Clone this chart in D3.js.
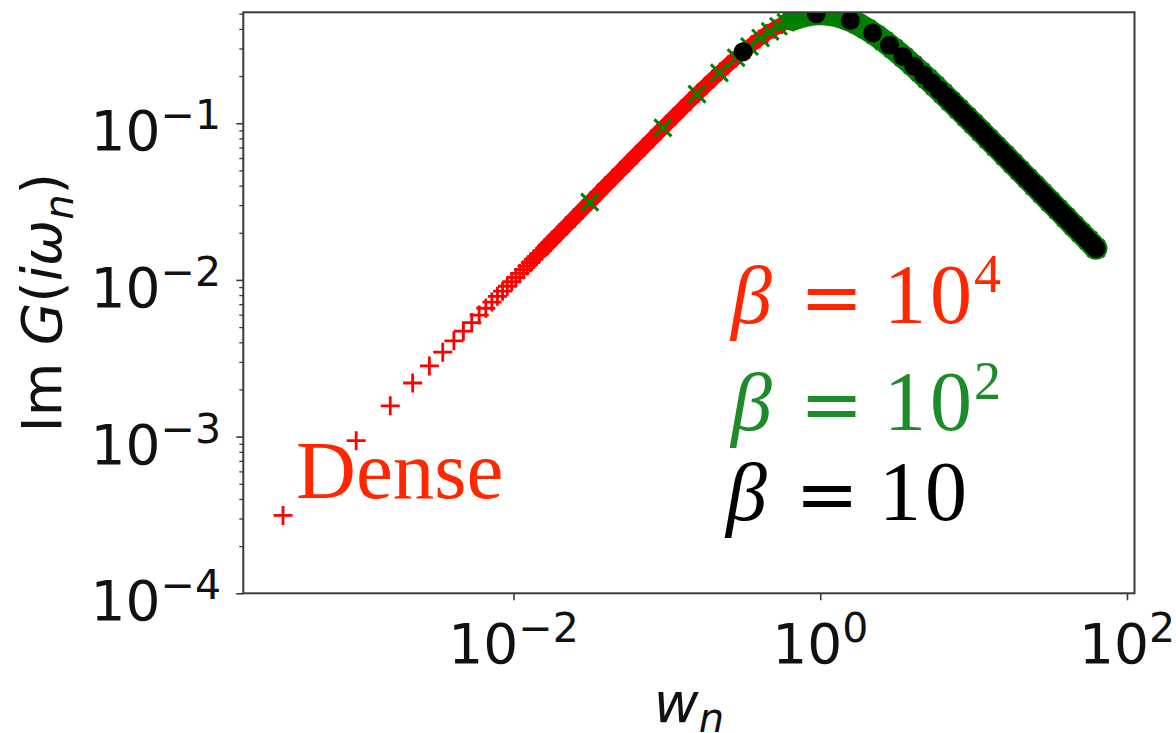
<!DOCTYPE html>
<html><head><meta charset="utf-8">
<script src="https://cdn.jsdelivr.net/npm/d3@7"></script>
<style>body{margin:0;background:#fff} svg{display:block}</style>
</head><body>
<svg id="c" width="1176" height="733"></svg>
<script>
// ---------------- data ----------------
// beta = 1e4 (red "+")
const redW = [0.000314,0.000942,0.001571,0.002199,0.002827,0.003456,0.004084,0.004712,0.005341,0.005969,
  0.006597,0.007226,0.007854,0.008482,0.009111,0.009739,0.010367,0.010996,0.011624,0.012252,0.012881,
  0.013509,0.014137,0.014765,0.015394,
  0.0167,0.018,0.020,0.022,0.025,0.028,0.032,0.036,0.040,0.045,0.050,0.056,0.063,0.071,0.080,0.090,
  0.100,0.112,0.125,0.140,0.160,0.180,0.200,0.224,0.250,0.280,0.316,0.355,0.400,0.450,0.500,0.560,
  0.630,0.710,0.800,0.900,1.000];
const redG = [0.000314,0.000942,0.001571,0.002199,0.002827,0.003456,0.004084,0.004712,0.005341,0.005969,
  0.006597,0.007226,0.007854,0.008482,0.009111,0.009738,0.010366,0.010995,0.011622,0.012250,0.012879,
  0.013507,0.014134,0.014762,0.015390,
  0.0167,0.0180,0.01999,0.02199,0.02498,0.02798,0.03197,0.03595,0.03994,0.04491,0.04988,0.05582,0.06275,
  0.07064,0.07949,0.08928,0.0990,0.1106,0.1231,0.1373,0.1560,0.1744,0.1923,0.2133,0.2353,0.2596,0.2873,
  0.3153,0.3448,0.3742,0.4000,0.4263,0.4510,0.4720,0.4878,0.4972,0.5000];
// beta = 1e2 (green "x")
const greenW = [0.0314,0.0942,0.1571,0.2199,0.2827,0.3456,0.4084,0.4712,0.5341,0.5969,0.6597,0.7226,
  0.7854,0.8482,0.9111,0.9739,1.0367,1.0996,1.1624,1.2252,1.2881,1.3509,1.4137,1.4765,1.5394,1.6022,
  1.75,2.0,2.3,2.6,3.0,3.5,4.0,4.5,5.0,5.6,6.3,7.1,8.0,9.0,10,11.2,12.5,14,16,18,20,22.4,25,28,31.6,
  35.5,40,45,50,56,62.8];
const greenG = [0.03137,0.09337,0.15332,0.20976,0.26178,0.30873,0.35002,0.38559,0.41556,0.44010,0.45966,
  0.47472,0.48576,0.49330,0.49784,0.49983,0.49968,0.49775,0.49439,0.48986,0.48439,0.47821,0.47146,0.46430,
  0.45683,0.44917,
  0.4308,0.4000,0.3657,0.3351,0.3000,0.2642,0.2353,0.2118,0.1923,0.1731,0.1548,0.1381,0.1231,0.1098,
  0.0990,0.0886,0.0795,0.0711,0.0623,0.0554,0.0499,0.04455,0.03994,0.03567,0.03161,0.02815,0.0250,
  0.0222,0.0200,0.0179,0.0159];
// beta = 10 (black dots)
const blackW = [0.3142,0.9425,1.5708,2.1991,2.8274,3.4558,4.0841,4.7124,5.3407,5.9690,6.5973,7.2257,
  7.8540,8.4823,9.1106,9.7389,10.367,10.996,11.624,12.252,
  13.5,15,16.5,18,20,22,24,26.5,29,32,35,38.5,42,46,50,55,60,62.8];
const blackG = [0.2858,0.4991,0.4530,0.3768,0.3144,0.2670,0.2310,0.2031,0.1809,0.1630,0.1482,0.1358,
  0.1253,0.1163,0.1085,0.1016,0.0955,0.0902,0.0854,0.0811,
  0.0737,0.0664,0.0604,0.0554,0.0499,0.0454,0.0416,0.0377,0.0344,0.0312,0.0285,0.0260,0.0238,0.0217,
  0.0200,0.0182,0.0167,0.0159];

const xTickVals = [1e-2, 1e0, 1e2];
const xTickExps = ["\u22122", "0", "2"];
const yTickVals = [1e-4, 1e-3, 1e-2, 1e-1];
const yTickExps = ["\u22124", "\u22123", "\u22122", "\u22121"];
const betaExps = ["4", "2", ""];
const denseLabel = "Dense";

// ---------------- layout ----------------
const svg = d3.select("#c");
const L = 243.3, R = 1134.5, T = 12.3, B = 593.3;
const x = d3.scaleLog().domain([Math.pow(10,-3.762), Math.pow(10,2.049)]).range([L, R]);
const y = d3.scaleLog().domain([1e-4, 0.5105]).range([B, T]);
const axisColor = "#3a3a3a";
const tickFont = "DejaVu Sans";

svg.append("defs").append("clipPath").attr("id","clip")
  .append("rect").attr("x",L).attr("y",T).attr("width",R-L).attr("height",B-T);

const plot = svg.append("g").attr("clip-path","url(#clip)");

function pts(W,G){ return W.map((w,i)=>({w, g:G[i]})); }
const red = pts(redW, redG), green = pts(greenW, greenG), black = pts(blackW, blackG);
const line = d3.line().x(d=>x(d.w)).y(d=>y(d.g));

// red
plot.append("path").datum(red.filter(d=>d.w>=0.0153))
  .attr("d", line).attr("fill","none").attr("stroke","#ff0000")
  .attr("stroke-width",14.5).attr("stroke-linejoin","round").attr("stroke-linecap","round");
plot.append("g").selectAll("path").data(red).join("path")
  .attr("transform", d=>`translate(${x(d.w)},${y(d.g)})`)
  .attr("d","M-9.5,0H9.5M0,-9.5V9.5").attr("stroke","#ff0000").attr("stroke-width",2.8).attr("fill","none");

// green
plot.append("path").datum(green.filter(d=>d.w>=0.65))
  .attr("d", line).attr("fill","none").attr("stroke","#008000")
  .attr("stroke-width",23).attr("stroke-linejoin","round").attr("stroke-linecap","round");
plot.append("g").selectAll("path").data(green).join("path")
  .attr("transform", d=>`translate(${x(d.w)},${y(d.g)})`)
  .attr("d","M-8.5,-8.5L8.5,8.5M-8.5,8.5L8.5,-8.5").attr("stroke","#008000").attr("stroke-width",3).attr("fill","none");

// black
plot.append("path").datum(black.filter(d=>d.w>=6.5))
  .attr("d", line).attr("fill","none").attr("stroke","#000")
  .attr("stroke-width",19).attr("stroke-linejoin","round").attr("stroke-linecap","round");
plot.append("g").selectAll("circle").data(black).join("circle")
  .attr("cx", d=>x(d.w)).attr("cy", d=>y(d.g)).attr("r",9.5).attr("fill","#000");

// axes
const xAxis = d3.axisBottom(x).tickValues(xTickVals).tickSize(7).tickSizeOuter(0).tickFormat(()=> "");
const gx = svg.append("g").attr("transform",`translate(0,${B})`).call(xAxis);
gx.select(".domain").remove();
gx.selectAll(".tick line").attr("stroke",axisColor).attr("stroke-width",1.6);

const yMinor = y.ticks().filter(v => Math.abs(Math.log10(v) - Math.round(Math.log10(v))) > 1e-6);
const gyMinor = svg.append("g").attr("transform",`translate(${L},0)`)
  .call(d3.axisLeft(y).tickValues(yMinor).tickSize(4).tickSizeOuter(0).tickFormat(()=>""));
gyMinor.select(".domain").remove();
gyMinor.selectAll(".tick line").attr("stroke",axisColor).attr("stroke-width",1.3);
const gy = svg.append("g").attr("transform",`translate(${L},0)`)
  .call(d3.axisLeft(y).tickValues(yTickVals).tickSize(7).tickSizeOuter(0).tickFormat(()=>""));
gy.select(".domain").remove();
gy.selectAll(".tick line").attr("stroke",axisColor).attr("stroke-width",1.6);

// spines
svg.append("rect").attr("x",L).attr("y",T).attr("width",R-L).attr("height",B-T)
  .attr("fill","none").attr("stroke",axisColor).attr("stroke-width",2);

// tick labels
xTickVals.forEach((v,i)=>{
  const t = svg.append("text").attr("x", x(v)).attr("y", 663).attr("text-anchor","middle")
    .attr("font-family", tickFont).attr("font-size",55).attr("fill","#111");
  t.append("tspan").text("10");
  t.append("tspan").attr("font-size",41).attr("dy",-21).text(xTickExps[i]);
});
yTickVals.forEach((v,i)=>{
  const t = svg.append("text").attr("x", 221).attr("y", y(v)+27).attr("text-anchor","end")
    .attr("font-family", tickFont).attr("font-size",55).attr("fill","#111");
  t.append("tspan").text("10");
  t.append("tspan").attr("font-size",41).attr("dy",-21).text(yTickExps[i]);
});

// axis labels
const xl = svg.append("text").attr("x",(L+R)/2).attr("y",722).attr("text-anchor","middle")
  .attr("font-family",tickFont).attr("font-size",55).attr("fill","#111");
xl.append("tspan").attr("font-style","italic").text("w");
xl.append("tspan").attr("font-style","italic").attr("font-size",40).attr("dy",10).text("n");

const yl = svg.append("text").attr("transform",`translate(61,${(T+B)/2}) rotate(-90)`)
  .attr("text-anchor","middle").attr("font-family",tickFont).attr("font-size",55).attr("fill","#111");
yl.append("tspan").text("Im ");
yl.append("tspan").attr("font-style","italic").text("G");
yl.append("tspan").text("(");
yl.append("tspan").attr("font-style","italic").text("i\u03c9");
yl.append("tspan").attr("font-style","italic").attr("font-size",40).attr("dy",12).text("n");
yl.append("tspan").attr("dy",-12).text(")");

// annotations
const annColors = ["#ff2600", "#1e8b2b", "#000000"];
const annRows = [{x0:731, xe:831.5, xd:884, base:323},
                 {x0:731, xe:831.5, xd:884, base:430},
                 {x0:726, xe:827,   xd:879, base:520}];
annRows.forEach((r,i)=>{
  const c = annColors[i];
  svg.append("text").attr("x",r.x0).attr("y",r.base).attr("font-family","Liberation Serif")
    .attr("font-style","italic").attr("font-size",82).attr("fill",c).text("\u03b2");
  svg.append("text").attr("x",r.xe).attr("y",r.base).attr("text-anchor","middle")
    .attr("font-family","DejaVu Serif").attr("font-size",76).attr("fill",c).text("=");
  const t = svg.append("text").attr("x",r.xd).attr("y",r.base).attr("font-family","Liberation Serif")
    .attr("font-size",84).attr("fill",c);
  t.append("tspan").attr("letter-spacing",4).text("10");
  if (betaExps[i]) {
    t.append("tspan").attr("font-size",54).attr("dx",-2).attr("dy",-31).text(betaExps[i]);
  }
});
svg.append("text").attr("x",296).attr("y",498).attr("font-family","Liberation Serif")
  .attr("font-size",83).attr("fill","#ff2600").text(denseLabel);
</script>
</body></html>
